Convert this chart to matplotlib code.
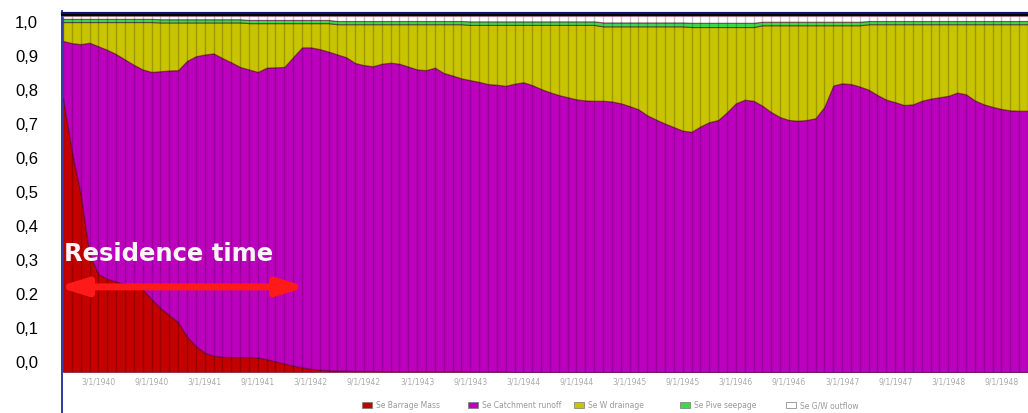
import numpy as np
import pandas as pd
import matplotlib
matplotlib.use("Agg")
import matplotlib.pyplot as plt
from matplotlib.lines import Line2D
from matplotlib.patches import Rectangle

# monthly fractions of Se load by source
barrage = [
    0.770, 0.620, 0.500, 0.330, 0.275, 0.262, 0.254, 0.248, 0.241, 0.232,
    0.205, 0.180, 0.160, 0.140, 0.100, 0.073, 0.054, 0.046, 0.043, 0.042,
    0.042, 0.042, 0.041, 0.036, 0.030, 0.024, 0.018, 0.013, 0.009, 0.007,
    0.005, 0.004, 0.004, 0.003, 0.003, 0.003, 0.002, 0.002, 0.002, 0.002,
    0.002, 0.002, 0.002, 0.002, 0.002, 0.002, 0.001, 0.001, 0.001, 0.001,
    0.001, 0.000, 0.000, 0.000, 0.000, 0.000, 0.000, 0.000, 0.000, 0.000,
    0.000, 0.000, 0.000, 0.000, 0.000, 0.000, 0.000, 0.000, 0.000, 0.000,
    0.000, 0.000, 0.000, 0.000, 0.000, 0.000, 0.000, 0.000, 0.000, 0.000,
    0.000, 0.000, 0.000, 0.000, 0.000, 0.000, 0.000, 0.000, 0.000, 0.000,
    0.000, 0.000, 0.000, 0.000, 0.000, 0.000, 0.000, 0.000, 0.000, 0.000,
    0.000, 0.000, 0.000, 0.000, 0.000, 0.000, 0.000, 0.000, 0.000, 0.000,
]
catchment = [
    0.160, 0.304, 0.421, 0.595, 0.640, 0.643, 0.639, 0.630, 0.622, 0.618,
    0.638, 0.665, 0.687, 0.708, 0.774, 0.814, 0.838, 0.849, 0.839, 0.828,
    0.815, 0.808, 0.802, 0.819, 0.826, 0.833, 0.867, 0.899, 0.903, 0.900,
    0.895, 0.888, 0.880, 0.865, 0.859, 0.856, 0.864, 0.867, 0.864, 0.856,
    0.848, 0.846, 0.853, 0.838, 0.831, 0.823, 0.819, 0.814, 0.808, 0.806,
    0.803, 0.810, 0.814, 0.806, 0.795, 0.786, 0.778, 0.772, 0.766, 0.763,
    0.762, 0.762, 0.760, 0.755, 0.747, 0.738, 0.721, 0.709, 0.698, 0.688,
    0.678, 0.675, 0.690, 0.702, 0.708, 0.730, 0.755, 0.765, 0.762, 0.748,
    0.730, 0.716, 0.708, 0.706, 0.708, 0.713, 0.745, 0.805, 0.811, 0.809,
    0.802, 0.793, 0.778, 0.765, 0.758, 0.750, 0.752, 0.762, 0.768, 0.772,
    0.776, 0.785, 0.780, 0.763, 0.752, 0.745, 0.739, 0.735, 0.734, 0.734,
]
drainage = [
    0.053, 0.059, 0.062, 0.058, 0.068, 0.078, 0.090, 0.105, 0.120, 0.133,
    0.140, 0.137, 0.135, 0.134, 0.108, 0.095, 0.090, 0.087, 0.100, 0.112,
    0.125, 0.130, 0.137, 0.125, 0.124, 0.123, 0.095, 0.068, 0.068, 0.073,
    0.080, 0.085, 0.093, 0.109, 0.115, 0.118, 0.111, 0.108, 0.111, 0.119,
    0.127, 0.129, 0.122, 0.137, 0.144, 0.152, 0.155, 0.160, 0.166, 0.168,
    0.171, 0.165, 0.161, 0.169, 0.180, 0.189, 0.197, 0.203, 0.209, 0.212,
    0.213, 0.209, 0.211, 0.216, 0.224, 0.233, 0.250, 0.262, 0.273, 0.283,
    0.293, 0.294, 0.279, 0.267, 0.261, 0.239, 0.214, 0.204, 0.207, 0.226,
    0.244, 0.258, 0.266, 0.268, 0.266, 0.261, 0.229, 0.169, 0.163, 0.165,
    0.172, 0.184, 0.199, 0.212, 0.219, 0.227, 0.225, 0.215, 0.209, 0.205,
    0.201, 0.192, 0.197, 0.214, 0.225, 0.232, 0.238, 0.242, 0.243, 0.243,
]
seepage = [
    0.009, 0.009, 0.009, 0.009, 0.009, 0.009, 0.009, 0.009, 0.009, 0.009,
    0.009, 0.009, 0.009, 0.009, 0.009, 0.009, 0.009, 0.009, 0.009, 0.009,
    0.009, 0.009, 0.009, 0.009, 0.009, 0.009, 0.009, 0.009, 0.009, 0.009,
    0.009, 0.009, 0.009, 0.009, 0.009, 0.009, 0.009, 0.009, 0.009, 0.009,
    0.009, 0.009, 0.009, 0.009, 0.009, 0.009, 0.010, 0.010, 0.010, 0.010,
    0.010, 0.010, 0.010, 0.010, 0.010, 0.010, 0.010, 0.010, 0.010, 0.010,
    0.010, 0.011, 0.011, 0.011, 0.011, 0.011, 0.011, 0.011, 0.011, 0.011,
    0.011, 0.012, 0.012, 0.012, 0.012, 0.012, 0.012, 0.012, 0.012, 0.010,
    0.010, 0.010, 0.010, 0.010, 0.010, 0.010, 0.010, 0.010, 0.010, 0.010,
    0.010, 0.009, 0.009, 0.009, 0.009, 0.009, 0.009, 0.009, 0.009, 0.009,
    0.009, 0.009, 0.009, 0.009, 0.009, 0.009, 0.009, 0.009, 0.009, 0.009,
]
outflow = [
    0.008, 0.008, 0.008, 0.008, 0.008, 0.008, 0.008, 0.008, 0.008, 0.008,
    0.008, 0.009, 0.009, 0.009, 0.009, 0.009, 0.009, 0.009, 0.009, 0.009,
    0.009, 0.011, 0.011, 0.011, 0.011, 0.011, 0.011, 0.011, 0.011, 0.011,
    0.011, 0.014, 0.014, 0.014, 0.014, 0.014, 0.014, 0.014, 0.014, 0.014,
    0.014, 0.014, 0.014, 0.014, 0.014, 0.014, 0.015, 0.015, 0.015, 0.015,
    0.015, 0.015, 0.015, 0.015, 0.015, 0.015, 0.015, 0.015, 0.015, 0.015,
    0.015, 0.018, 0.018, 0.018, 0.018, 0.018, 0.018, 0.018, 0.018, 0.018,
    0.018, 0.019, 0.019, 0.019, 0.019, 0.019, 0.019, 0.019, 0.019, 0.016,
    0.016, 0.016, 0.016, 0.016, 0.016, 0.016, 0.016, 0.016, 0.016, 0.016,
    0.016, 0.014, 0.014, 0.014, 0.014, 0.014, 0.014, 0.014, 0.014, 0.014,
    0.014, 0.014, 0.014, 0.014, 0.014, 0.014, 0.014, 0.014, 0.014, 0.014,
]

series_labels = ["Se Barrage Mass", "Se Catchment runoff", "Se W drainage",
                 "Se Pive seepage", "Se G/W outflow"]
series_colors = ["#c40000", "#bd00bd", "#c8c400", "#3fd84a", "#ffffff"]

months = pd.date_range("1939-11-01", periods=len(barrage), freq="MS")
xtick_labels = ["3/1/1940", "9/1/1940", "3/1/1941", "9/1/1941", "3/1/1942",
                "9/1/1942", "3/1/1943", "9/1/1943", "3/1/1944", "9/1/1944",
                "3/1/1945", "9/1/1945", "3/1/1946", "9/1/1946", "3/1/1947",
                "9/1/1947", "3/1/1948", "9/1/1948"]
ytick_labels = ["0,0", "0,1", "0.2", "0,3", "0,4", "0,5", "0,6", "0,7",
                "0,8", "0,9", "1,0"]

W, H = 1028, 414
fig = plt.figure(figsize=(W / 100, H / 100), dpi=100)
ax = fig.add_axes([63 / W, 1 - 373 / H, (W - 63) / W, (373 - 17) / H])

x = np.arange(len(months))
ax.stackplot(x, barrage, catchment, drainage, seepage, outflow,
             colors=series_colors, edgecolor=(0.3, 0.0, 0.15, 0.55),
             linewidth=0.8)
# bar separators
ax.vlines(x, 0, 1, colors="black", alpha=0.22, linewidth=1.0)

ax.set_xlim(0, len(months) - 1)
ax.set_ylim(0, 1)
for s in ax.spines.values():
    s.set_visible(False)

# x ticks every 6 months
date_str = [f"{d.month}/1/{d.year}" for d in months]
xpos = [date_str.index(lbl) for lbl in xtick_labels]
ax.set_xticks(xpos, xtick_labels)
ax.tick_params(axis="x", length=0, pad=3, labelsize=5.5, labelcolor="#aaaaaa")

# y labels sit slightly off the data scale, like the original slide
ypos = (np.arange(len(ytick_labels)) * 34 + 11) / 356
ax.set_yticks(ypos, ytick_labels)
ax.tick_params(axis="y", length=0, pad=18)
for t in ax.get_yticklabels():
    t.set_fontfamily("Liberation Sans")
    t.set_fontsize(12)

# frame lines
fig.add_artist(Line2D([62 / W, 62 / W], [0, 1 - 12 / H], color="#1c2a9c",
                      linewidth=1.3, transform=fig.transFigure))
fig.add_artist(Line2D([61.5 / W, 1], [1 - 13.5 / H] * 2, color="#0a1478",
                      linewidth=2.3, transform=fig.transFigure))
fig.add_artist(Line2D([62 / W, 1], [1 - 16 / H] * 2, color="black",
                      linewidth=1.4, transform=fig.transFigure))

# annotation
ax.text(0.1, 0.335, "Residence time", fontsize=17.5, fontweight="bold",
        color="#fbf4fb", va="center", ha="left")
ax.annotate("", xy=(27.5, 0.239), xytext=(-0.6, 0.239),
            arrowprops=dict(arrowstyle="<|-|>,head_length=0.8,head_width=0.25",
                            color="#ff1a1a", lw=5, mutation_scale=20,
                            shrinkA=0, shrinkB=0))

# legend drawn as fixed-width slots
for k, (lbl, col) in enumerate(zip(series_labels, series_colors)):
    cx = 367 + 106 * k
    fig.add_artist(Rectangle(((cx - 5) / W, 1 - 409 / H), 10 / W, 6 / H,
                             facecolor=col, edgecolor="#777777", linewidth=0.5,
                             transform=fig.transFigure))
    fig.text((cx + 9) / W, 1 - 406 / H, lbl, fontsize=5.5, color="#999999",
             va="center", ha="left")

fig.savefig("out.png", dpi=100)
